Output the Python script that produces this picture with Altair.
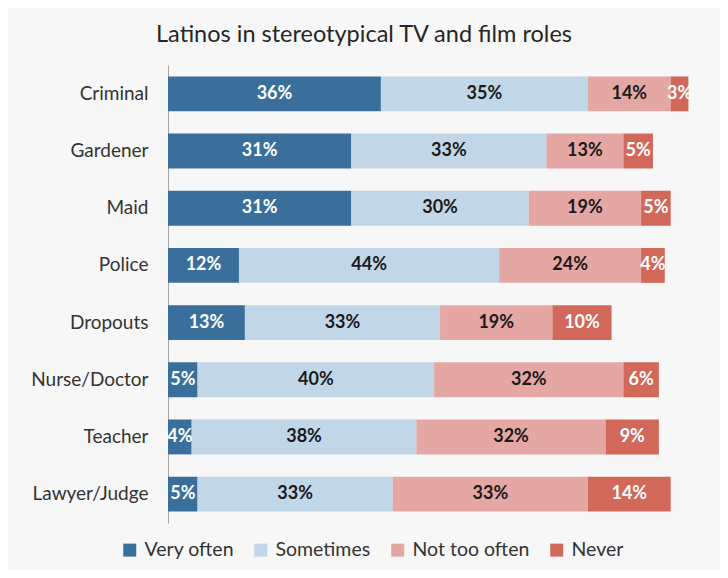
import altair as alt
import pandas as pd

roles = ["Criminal", "Gardener", "Maid", "Police", "Dropouts",
         "Nurse/Doctor", "Teacher", "Lawyer/Judge"]
categories = ["Very often", "Sometimes", "Not too often", "Never"]
very_often = [36, 31, 31, 12, 13, 5, 4, 5]
sometimes = [35, 33, 30, 44, 33, 40, 38, 33]
not_too_often = [14, 13, 19, 24, 19, 32, 32, 33]
never = [3, 5, 5, 4, 10, 6, 9, 14]

colors = ["#3b6f9b", "#c1d6e7", "#e5a7a4", "#d16859"]
text_colors = ["#ffffff", "#1a1a1a", "#1a1a1a", "#ffffff"]

series = [very_often, sometimes, not_too_often, never]
rows = []
for ci, (cat, vals) in enumerate(zip(categories, series)):
    for role, v in zip(roles, vals):
        rows.append({"role": role, "category": cat, "value": v,
                     "order": ci, "tcolor": text_colors[ci]})
df = pd.DataFrame(rows)

FONT = "Lato"

base = alt.Chart(df).transform_stack(
    stack="value", groupby=["role"], sort=[alt.SortField("order")],
    as_=["x0", "x1"]
).transform_calculate(
    mid="(datum.x0 + datum.x1) / 2",
    label="datum.value + '%'"
)

yenc = alt.Y("role:N", sort=roles,
             scale=alt.Scale(paddingInner=0.39, paddingOuter=0.2),
             axis=alt.Axis(title=None, ticks=False, labelPadding=20,
                           labelFontSize=19, labelColor="#333333",
                           labelFont=FONT, domainColor="#a6a6a6",
                           domainWidth=1))

xscale = alt.Scale(domain=[0, 93], nice=False, zero=True)

bars = base.mark_bar().encode(
    x=alt.X("x0:Q", scale=xscale, axis=None),
    x2="x1:Q",
    y=yenc,
    color=alt.Color("category:N", sort=categories,
                    scale=alt.Scale(domain=categories, range=colors),
                    legend=alt.Legend(title=None, orient="none",
                                      direction="horizontal", columns=4,
                                      legendX=-48, legendY=475,
                                      symbolType="square", symbolSize=169,
                                      symbolStrokeWidth=0,
                                      labelFontSize=19.5, labelFont=FONT,
                                      labelColor="#333333",
                                      columnPadding=17, labelOffset=5)),
)

texts = base.mark_text(font=FONT, fontSize=18, fontWeight="bold").encode(
    x=alt.X("mid:Q", scale=xscale, axis=None),
    y=alt.Y("role:N", sort=roles),
    text="label:N",
    color=alt.Color("tcolor:N", scale=None, legend=None),
)

chart = alt.layer(bars, texts).resolve_scale(color="independent").properties(
    width=550, height=458,
    autosize=alt.AutoSizeParams(type="none"),
    padding={"left": 160, "top": 57, "right": 2, "bottom": 47},
    background="#f7f7f7",
    title=alt.TitleParams("Latinos in stereotypical TV and film roles",
                          fontSize=23.5, font=FONT, fontWeight="normal",
                          color="#262626", anchor="middle", dx=-79,
                          offset=19),
).configure_view(stroke=None)

chart.save("out.html", embed_options={"renderer": "svg", "actions": False})
